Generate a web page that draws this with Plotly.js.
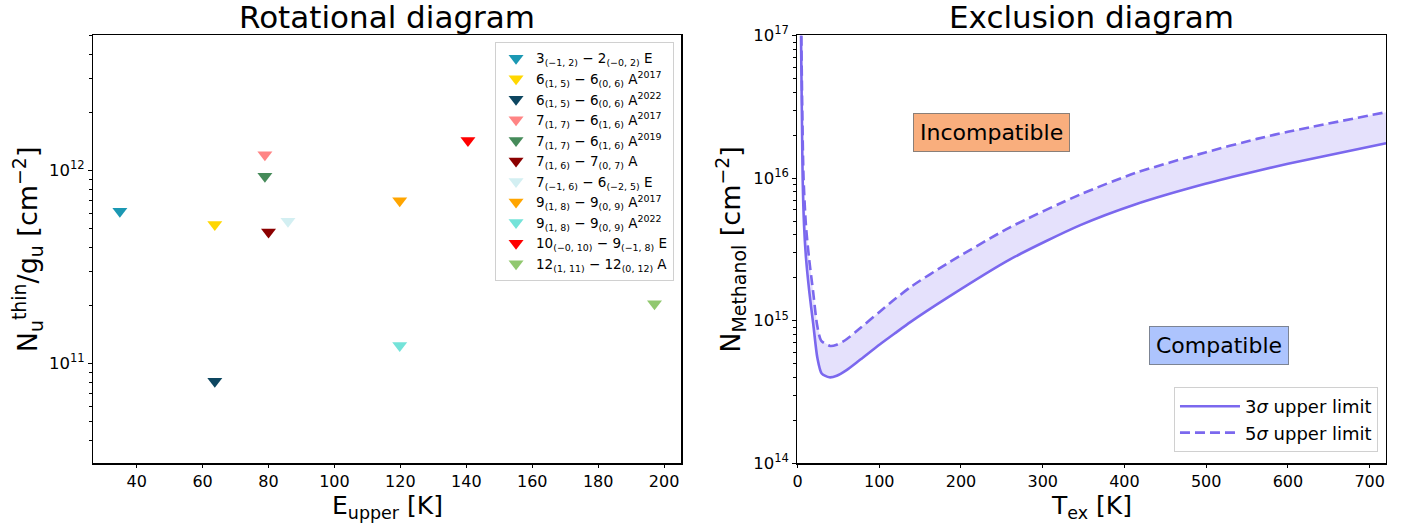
<!DOCTYPE html>
<html>
<head>
<meta charset="utf-8">
<script src="https://cdn.plot.ly/plotly-3.0.1.min.js"></script>
<style>html,body{margin:0;padding:0;background:#fff;}#chart{width:1411px;height:524px;}</style>
</head>
<body>
<div id="chart"></div>
<script>
// ---- Rotational diagram data ----
const lineLabels = [
  "3<sub>(−1, 2)</sub> − 2<sub>(−0, 2)</sub> E",
  "6<sub>(1, 5)</sub> − 6<sub>(0, 6)</sub> A<sup>2017</sup>",
  "6<sub>(1, 5)</sub> − 6<sub>(0, 6)</sub> A<sup>2022</sup>",
  "7<sub>(1, 7)</sub> − 6<sub>(1, 6)</sub> A<sup>2017</sup>",
  "7<sub>(1, 7)</sub> − 6<sub>(1, 6)</sub> A<sup>2019</sup>",
  "7<sub>(1, 6)</sub> − 7<sub>(0, 7)</sub> A",
  "7<sub>(−1, 6)</sub> − 6<sub>(−2, 5)</sub> E",
  "9<sub>(1, 8)</sub> − 9<sub>(0, 9)</sub> A<sup>2017</sup>",
  "9<sub>(1, 8)</sub> − 9<sub>(0, 9)</sub> A<sup>2022</sup>",
  "10<sub>(−0, 10)</sub> − 9<sub>(−1, 8)</sub> E",
  "12<sub>(1, 11)</sub> − 12<sub>(0, 12)</sub> A"
];
const eUpper = [34.9, 63.7, 63.7, 78.9, 78.9, 80.0, 85.9, 119.8, 119.8, 140.5, 197.1];
const nuGu   = [6.14e11, 5.24e11, 8.1e10, 1.205e12, 9.34e11, 4.8e11, 5.45e11, 6.97e11, 1.24e11, 1.43e12, 2.04e11];
const markerColors = ["#1b98b3", "#ffd700", "#0d4660", "#ff8484", "#468b5a", "#8b0000",
                      "#d3eff2", "#ffa500", "#74e3d9", "#ff0000", "#91c86f"];

// ---- Exclusion diagram data ----
const tex3 = [4.3, 5.5, 6.3, 8.0, 10.4, 14.5, 19.4, 24.3, 29.6, 39, 48, 60, 75, 101, 120, 138, 183, 260, 346, 413, 499, 562, 600, 720];
const logN3 = [17.0, 16.37, 16.0, 15.67, 15.44, 15.20, 14.97, 14.74, 14.63, 14.603, 14.614, 14.654, 14.719, 14.835, 14.915, 14.99, 15.16, 15.43, 15.67, 15.815, 15.96, 16.05, 16.10, 16.244];
const tex5 = [4.7, 6.1, 7.4, 10.3, 14.1, 19.2, 24, 29, 40, 48, 60, 75, 101, 120, 138, 183, 260, 346, 413, 499, 562, 600, 720];
const logN5 = [17.0, 16.37, 16.0, 15.67, 15.44, 15.20, 14.97, 14.86, 14.823, 14.832, 14.87, 14.94, 15.065, 15.155, 15.235, 15.40, 15.655, 15.885, 16.035, 16.18, 16.275, 16.325, 16.462];
const seriesNames = ["3<i>σ</i> upper limit", "5<i>σ</i> upper limit"];
const regionLabels = ["Incompatible", "Compatible"];
const regionPos = [[237, 2.1e16], [516, 6.65e14]];
const axisTitles = {
  x1: "E<sub>upper</sub> [K]",
  y1: "N<sub>u</sub><sup>thin</sup>/g<sub>u</sub> [cm<sup>−2</sup>]",
  x2: "T<sub>ex</sub> [K]",
  y2: "N<sub>Methanol</sub> [cm<sup>−2</sup>]"
};

const n3 = logN3.map(v => Math.pow(10, v));
const n5 = logN5.map(v => Math.pow(10, v));

const FONT = "DejaVu Sans, Liberation Sans, sans-serif";
const lineColor = "#7b68ee";

const traces = [];
lineLabels.forEach((lab, i) => {
  traces.push({
    type: "scatter", mode: "markers", x: [eUpper[i]], y: [nuGu[i]], name: lab,
    xaxis: "x", yaxis: "y", legend: "legend",
    marker: {symbol: "triangle-down", size: 13, color: markerColors[i], line: {width: 0}}
  });
});
// fill band between the two limits
traces.push({
  type: "scatter", mode: "lines", xaxis: "x2", yaxis: "y2",
  x: tex3.concat(tex5.slice().reverse()),
  y: n3.concat(n5.slice().reverse()),
  fill: "toself", fillcolor: "rgba(123,104,238,0.2)",
  showlegend: false, hoverinfo: "skip", line: {width: 0}
});
traces.push({
  type: "scatter", mode: "lines", xaxis: "x2", yaxis: "y2", x: tex3, y: n3,
  name: seriesNames[0], legend: "legend2",
  line: {color: lineColor, width: 2.6, shape: "spline", smoothing: 0.7}
});
traces.push({
  type: "scatter", mode: "lines", xaxis: "x2", yaxis: "y2", x: tex5, y: n5,
  name: seriesNames[1], legend: "legend2",
  line: {color: lineColor, width: 2.6, dash: "10px,5px", shape: "spline", smoothing: 0.7}
});

function minorVals(lo, hi) {
  const out = [];
  for (let k = lo; k <= hi; k++) for (let m = 2; m <= 9; m++) out.push(m * Math.pow(10, k));
  return out;
}
const axBase = {
  showline: true, mirror: true, linecolor: "#000", linewidth: 1.3,
  ticks: "outside", ticklen: 4, tickwidth: 1, tickcolor: "#000",
  showgrid: false, zeroline: false,
  tickfont: {family: FONT, size: 16.5, color: "#000"}
};
const xTickBase = {ticklen: 3.5, tickfont: {family: FONT, size: 16, color: "#000"}};
const titleFont = {family: FONT, size: 25, color: "#000"};

const layout = {
  width: 1411, height: 524,
  margin: {l: 0, r: 0, t: 0, b: 0},
  paper_bgcolor: "#fff", plot_bgcolor: "#fff",
  font: {family: FONT, color: "#000"},
  showlegend: true,
  xaxis: Object.assign({}, axBase, xTickBase, {
    domain: [0.0661, 0.4829], range: [26.83, 205.25], anchor: "y",
    tickvals: [40, 60, 80, 100, 120, 140, 160, 180, 200]
  }),
  yaxis: Object.assign({}, axBase, {
    domain: [0.1158, 0.9323], type: "log", range: [10.483, 12.699], anchor: "x",
    tickvals: [1e11, 1e12], ticktext: ["10<sup>11</sup>", "10<sup>12</sup>"],
    minor: {ticks: "outside", ticklen: 3, tickcolor: "#000", tickvals: minorVals(10, 12), showgrid: false},
    title: {text: axisTitles.y1, font: {family: FONT, size: 27, color: "#000"}, standoff: 3}
  }),
  xaxis2: Object.assign({}, axBase, xTickBase, {
    domain: [0.5652, 0.9823], range: [0, 720], anchor: "y2",
    tickvals: [0, 100, 200, 300, 400, 500, 600, 700]
  }),
  yaxis2: Object.assign({}, axBase, {
    domain: [0.1158, 0.9323], type: "log", range: [14, 17], anchor: "x2",
    tickvals: [1e14, 1e15, 1e16, 1e17], ticktext: ["10<sup>14</sup>", "10<sup>15</sup>", "10<sup>16</sup>", "10<sup>17</sup>"],
    minor: {ticks: "outside", ticklen: 3, tickcolor: "#000", tickvals: minorVals(14, 16), showgrid: false},
    title: {text: axisTitles.y2, font: {family: FONT, size: 27, color: "#000"}, standoff: 4}
  }),
  legend: {
    x: 0.4777, xanchor: "right", y: 0.92, yanchor: "top",
    bgcolor: "rgba(255,255,255,0.9)", bordercolor: "#d0d0d0", borderwidth: 1,
    font: {family: FONT, size: 13.5, color: "#000"}, itemwidth: 30, tracegroupgap: 0
  },
  legend2: {
    x: 0.9766, xanchor: "right", y: 0.1374, yanchor: "bottom",
    bgcolor: "rgba(255,255,255,0.9)", bordercolor: "#d0d0d0", borderwidth: 1,
    font: {family: FONT, size: 18, color: "#000"}, itemwidth: 60
  },
  annotations: [
    {xref: "paper", yref: "paper", x: 0.2745, y: 0.967, text: "Rotational diagram", showarrow: false,
     font: {family: FONT, size: 31}, xanchor: "center", yanchor: "middle"},
    {xref: "paper", yref: "paper", x: 0.7737, y: 0.967, text: "Exclusion diagram", showarrow: false,
     font: {family: FONT, size: 31}, xanchor: "center", yanchor: "middle"},
    {xref: "paper", yref: "paper", x: 0.2745, y: 0.0005, text: axisTitles.x1, showarrow: false,
     font: titleFont, xanchor: "center", yanchor: "bottom", borderpad: 0},
    {xref: "paper", yref: "paper", x: 0.7737, y: 0.0005, text: axisTitles.x2, showarrow: false,
     font: titleFont, xanchor: "center", yanchor: "bottom", borderpad: 0},
    {xref: "x2", yref: "y2", x: regionPos[0][0], y: Math.log10(regionPos[0][1]), text: regionLabels[0], showarrow: false,
     font: {family: FONT, size: 22}, bgcolor: "#f9ae7d", bordercolor: "#8a7f78", borderwidth: 1, borderpad: 6},
    {xref: "x2", yref: "y2", x: regionPos[1][0], y: Math.log10(regionPos[1][1]), text: regionLabels[1], showarrow: false,
     font: {family: FONT, size: 22}, bgcolor: "#adc4fd", bordercolor: "#7c8494", borderwidth: 1, borderpad: 6}
  ]
};

Plotly.newPlot("chart", traces, layout, {displayModeBar: false, staticPlot: true});
</script>
</body>
</html>
